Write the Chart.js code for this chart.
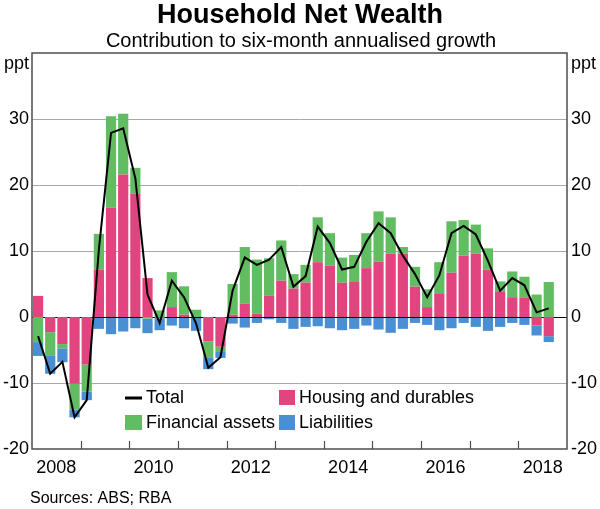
<!DOCTYPE html>
<html>
<head>
<meta charset="utf-8">
<script src="https://cdn.jsdelivr.net/npm/chart.js@4"></script>
<style>
html,body{margin:0;padding:0;background:#fff;}
#wrap{width:600px;height:509px;position:relative;}
</style>
</head>
<body>
<div id="wrap"><canvas id="c" width="600" height="509"></canvas></div>
<script>
// Quarterly categories Mar-2008 .. Dec-2018
const years = [2008,2009,2010,2011,2012,2013,2014,2015,2016,2017,2018];
const quarters = ['Mar','Jun','Sep','Dec'];
const categories = [];
years.forEach(y => quarters.forEach(q => categories.push(q + '-' + y)));

const housing = [3.2,-2.3,-4.1,-10.1,-7.2,7.2,16.6,21.6,18.7,5.9,-0.2,1.5,0.35,0,-3.7,-4.5,0.35,2.0,0.5,3.2,5.5,4.3,5.2,8.3,7.8,5.2,5.3,7.4,8.4,9.6,9.6,4.6,1.5,3.6,6.7,9.3,9.6,7.2,3.9,3.0,2.9,-1.3,-2.9];
const financial = [-3.8,-3.6,-0.65,-3.9,-4.1,5.4,13.8,9.2,3.9,-0.25,1.0,5.3,4.3,1.1,-2.4,-0.8,4.65,8.6,8.2,5.7,6.1,2.2,2.7,6.8,4.9,3.8,4.1,5.3,7.6,5.5,1.0,3.0,2.7,4.7,7.8,5.4,4.4,3.2,1.5,3.9,3.2,3.4,5.3];
const liabilities = [-2.1,-2.7,-2.1,-1.2,-1.3,-1.8,-2.6,-2.2,-1.7,-2.2,-1.8,-1.3,-1.7,-2.1,-1.8,-0.9,-1.0,-1.6,-0.9,-0.35,-0.9,-1.8,-1.5,-1.4,-1.7,-2.0,-1.8,-1.3,-1.9,-2.4,-1.8,-0.9,-1.2,-2.0,-1.7,-0.9,-1.5,-2.1,-1.5,-0.9,-1.2,-1.5,-0.9];
const total = [-2.9,-8.6,-6.8,-15.2,-12.6,10.2,27.9,28.6,21.0,3.4,-0.9,5.5,3.0,-1.0,-7.7,-6.1,4.0,9.0,7.9,8.7,10.6,4.6,6.2,13.7,11.2,7.2,7.6,11.4,14.2,12.7,9.3,6.5,3.0,6.3,12.7,13.8,12.5,8.5,4.0,5.9,4.8,0.7,1.3];
const yTicks = [-20,-10,0,10,20,30];
const yearLabels = [2008,2010,2012,2014,2016,2018];

const PINK = '#e2447f', GREEN = '#62bd62', BLUE = '#4a8fd4';
const FONT = '"Liberation Sans", Arial, sans-serif';

const decor = {
  id: 'decor',
  beforeDatasetsDraw(chart) {
    const ctx = chart.ctx, a = chart.chartArea, y = chart.scales.y;
    ctx.save();
    ctx.strokeStyle = '#a8a8a8'; ctx.lineWidth = 1;
    yTicks.forEach(v => {
      if (v === 0 || v === -20) return;
      const py = Math.round(y.getPixelForValue(v)) + 0.5;
      ctx.beginPath(); ctx.moveTo(a.left, py); ctx.lineTo(a.right, py); ctx.stroke();
    });
    ctx.restore();
  },
  afterDatasetDraw(chart, args) {
    if (args.index !== 3) return;
    const ctx = chart.ctx, a = chart.chartArea, y = chart.scales.y;
    ctx.save();
    ctx.strokeStyle = '#000'; ctx.lineWidth = 1.2;
    const py = Math.round(y.getPixelForValue(0)) + 0.5;
    ctx.beginPath(); ctx.moveTo(a.left, py); ctx.lineTo(a.right, py); ctx.stroke();
    ctx.restore();
  },
  afterDraw(chart) {
    const ctx = chart.ctx, a = chart.chartArea, x2 = chart.scales.x2;
    ctx.save();
    ctx.strokeStyle = '#4d4d4d'; ctx.lineWidth = 1.5;
    ctx.strokeRect(a.left, a.top, a.right - a.left, a.bottom - a.top);
    ctx.lineWidth = 1.2;
    for (let yr = 2009; yr <= 2018; yr++) {
      const px = Math.round(x2.getPixelForValue(yr)) + 0.5;
      ctx.beginPath(); ctx.moveTo(px, a.bottom); ctx.lineTo(px, a.bottom - 8); ctx.stroke();
    }
    ctx.fillStyle = '#000';
    ctx.textAlign = 'center';
    ctx.font = 'bold 27px ' + FONT;
    ctx.fillText('Household Net Wealth', 300, 23);
    ctx.font = '20px ' + FONT;
    ctx.fillText('Contribution to six-month annualised growth', 301, 47);
    ctx.font = '18px ' + FONT;
    ctx.textAlign = 'right';
    ctx.fillText('ppt', 29, 69);
    ctx.textAlign = 'left';
    ctx.fillText('ppt', 571, 69);
    ctx.font = '16px ' + FONT;
    ctx.fillText('Sources: ABS; RBA', 30, 503);
    ctx.font = '18px ' + FONT;
    ctx.textBaseline = 'middle';
    ctx.strokeStyle = '#000'; ctx.lineWidth = 3;
    ctx.beginPath(); ctx.moveTo(125, 398); ctx.lineTo(142, 398); ctx.stroke();
    ctx.fillText('Total', 146, 398);
    ctx.fillStyle = PINK; ctx.fillRect(279, 390, 16, 15);
    ctx.fillStyle = '#000'; ctx.fillText('Housing and durables', 299, 398);
    ctx.fillStyle = GREEN; ctx.fillRect(125, 415, 17, 15);
    ctx.fillStyle = '#000'; ctx.fillText('Financial assets', 146, 423);
    ctx.fillStyle = BLUE; ctx.fillRect(279, 415, 16, 15);
    ctx.fillStyle = '#000'; ctx.fillText('Liabilities', 299, 423);
    ctx.restore();
  }
};

const barCommon = { type: 'bar', barPercentage: 0.84, categoryPercentage: 1.0, borderWidth: 0, xAxisID: 'x', yAxisID: 'y' };

new Chart(document.getElementById('c'), {
  data: {
    labels: categories,
    datasets: [
      { type: 'line', label: 'Total', data: total, borderColor: '#000', borderWidth: 2, pointRadius: 0, tension: 0, fill: false, xAxisID: 'x', yAxisID: 'y2', order: 0 },
      Object.assign({ label: 'Housing and durables', data: housing, backgroundColor: PINK, order: 1 }, barCommon),
      Object.assign({ label: 'Financial assets', data: financial, backgroundColor: GREEN, order: 2 }, barCommon),
      Object.assign({ label: 'Liabilities', data: liabilities, backgroundColor: BLUE, order: 3 }, barCommon)
    ]
  },
  options: {
    responsive: false,
    animation: false,
    devicePixelRatio: 1,
    layout: { padding: { top: 53, left: 0, right: 0, bottom: 0 } },
    plugins: { legend: { display: false }, tooltip: { enabled: false }, title: { display: false } },
    scales: {
      x: { type: 'category', stacked: true, display: false, offset: true },
      x2: {
        type: 'linear', position: 'bottom', min: 2008, max: 2019,
        afterBuildTicks: s => { s.ticks = yearLabels.map(v => ({ value: v + 0.5 })); },
        afterFit: s => { s.height = 60; },
        grid: { display: false, drawTicks: false },
        border: { display: false },
        ticks: { autoSkip: false, maxRotation: 0, padding: 8, color: '#000', font: { family: FONT, size: 18 }, callback: v => String(Math.floor(v)) }
      },
      y: {
        type: 'linear', position: 'left', stacked: true, min: -20, max: 40,
        afterBuildTicks: s => { s.ticks = yTicks.map(v => ({ value: v })); },
        afterFit: s => { s.width = 32; },
        grid: { display: false, drawTicks: false },
        border: { display: false },
        ticks: { padding: 3, color: '#000', font: { family: FONT, size: 18 } }
      },
      y2: {
        type: 'linear', position: 'right', min: -20, max: 40,
        afterBuildTicks: s => { s.ticks = yTicks.map(v => ({ value: v })); },
        afterFit: s => { s.width = 33; },
        grid: { display: false, drawTicks: false },
        border: { display: false },
        ticks: { padding: 4, color: '#000', font: { family: FONT, size: 18 } }
      }
    }
  },
  plugins: [decor]
});
</script>
</body>
</html>
